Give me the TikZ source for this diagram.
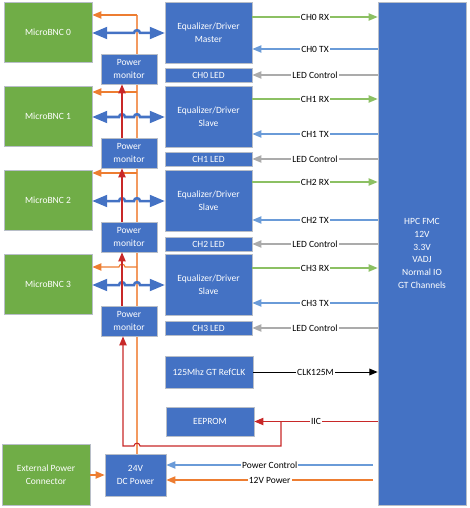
\documentclass[tikz,border=0pt]{standalone}
\usepackage{fontspec}
\setmainfont{Carlito}
\usetikzlibrary{arrows,backgrounds}

\definecolor{boxblue}{HTML}{4472C4}
\definecolor{boxgreen}{HTML}{70AD47}
\definecolor{rimgray}{HTML}{B8BEC8}
\definecolor{rxgreen}{HTML}{8CC063}
\definecolor{txblue}{HTML}{6A9BD8}
\definecolor{ledgray}{HTML}{ABABAB}
\definecolor{pwrorange}{HTML}{ED7D31}
\definecolor{feedorange}{HTML}{F39A60}
\definecolor{iicred}{HTML}{C82828}

\begin{document}
\begin{tikzpicture}[x=1pt,y=-1pt,>=triangle 45,
  font=\fontsize{9.5}{12.7}\selectfont,
  blue node/.style={rectangle,fill=boxblue,draw=rimgray,line width=0.8pt,text=white,align=center,inner sep=1pt},
  green node/.style={rectangle,fill=boxgreen,draw=rimgray,line width=0.8pt,text=white,align=center,inner sep=1pt},
  bnc node/.style={green node,minimum width=88pt,minimum height=60pt},
  eq node/.style={blue node,minimum width=87pt,minimum height=61pt},
  led node/.style={blue node,minimum width=87pt,minimum height=14pt},
  mon node/.style={blue node,minimum width=56pt,minimum height=30pt},
  sig label/.style={fill=white,text=black,inner sep=1pt},
  rx line/.style={->,draw=rxgreen,line width=1.1pt},
  tx line/.style={->,draw=txblue,line width=1.1pt},
  led line/.style={->,draw=ledgray,line width=1.1pt},
  clk line/.style={->,draw=black,line width=0.9pt},
  iic line/.style={->,draw=iicred,line width=1.1pt},
  feed line/.style={draw=feedorange,line width=1.3pt},
  pwr line/.style={->,draw=pwrorange,line width=1.1pt},
  bus line/.style={triangle 45-triangle 45,draw=boxblue,line width=2.5pt},
  hop/.style={out=90,in=90,looseness=1.6}]

  \useasboundingbox (0,0) rectangle (469,508);

  \node[bnc node] (bnc0) at (48,32)  {MicroBNC 0};
  \node[bnc node] (bnc1) at (48,116) {MicroBNC 1};
  \node[bnc node] (bnc2) at (48,200) {MicroBNC 2};
  \node[bnc node] (bnc3) at (48,284) {MicroBNC 3};

  \node[mon node] (mon0) at (129,69)  {Power\\monitor};
  \node[mon node] (mon1) at (129,153) {Power\\monitor};
  \node[mon node] (mon2) at (129,237) {Power\\monitor};
  \node[mon node] (mon3) at (129,321) {Power\\monitor};

  \node[eq node] (eq0) at (208.5,33)  {Equalizer/Driver\\Master};
  \node[eq node] (eq1) at (208.5,117) {Equalizer/Driver\\Slave};
  \node[eq node] (eq2) at (208.5,201) {Equalizer/Driver\\Slave};
  \node[eq node] (eq3) at (208.5,285) {Equalizer/Driver\\Slave};

  \node[led node] (led0) at (208.5,75)  {CH0 LED};
  \node[led node] (led1) at (208.5,159) {CH1 LED};
  \node[led node] (led2) at (208.5,244) {CH2 LED};
  \node[led node] (led3) at (208.5,328) {CH3 LED};

  \node[blue node,minimum width=88pt,minimum height=32pt] (clk) at (209,372) {125Mhz GT RefCLK};
  \node[blue node,minimum width=88pt,minimum height=29pt] (eeprom) at (210,421.5) {EEPROM};
  \node[green node,minimum width=88pt,minimum height=61pt] (ext) at (46,474.5) {External Power\\Connector};
  \node[blue node,minimum width=61pt,minimum height=42pt] (dc) at (135.5,475) {24V\\DC Power};
  \node[blue node,minimum width=88pt,minimum height=503pt] (fmc) at (422,253.5)
    {HPC FMC\\12V\\3.3V\\VADJ\\Normal IO\\GT Channels};

  % supply feed to the BNC connectors
  \begin{scope}[on background layer]
    \draw[feed line] ([xshift=1.5pt]dc.north) -- (137,15);
    \path[feed line]
      (137,15)  edge[pwr line] (bnc0.east |- 0,15)
      (137,92)  edge[pwr line] (bnc1.east |- 0,92)
      (137,173) edge[pwr line] (bnc2.east |- 0,173);
    \draw[pwr line] (137,267) -- (125,267) to[hop] (119,267) -- (bnc3.east |- 0,267);
  \end{scope}

  % data buses
  \draw[bus line] (bnc0.east |- eq0) -- (134,33) to[hop] (140,33) -- (eq0.west);
  \draw[bus line] (bnc1.east |- eq1) -- (119,117) to[hop] (125,117) -- (134,117) to[hop] (140,117) -- (eq1.west);
  \draw[bus line] (bnc2.east |- eq2) -- (119,201) to[hop] (125,201) -- (134,201) to[hop] (140,201) -- (eq2.west);
  \draw[bus line] (bnc3.east |- eq3) -- (119,285) to[hop] (125,285) -- (134,285) to[hop] (140,285) -- (eq3.west);

  % channels to the FMC
  \path[every node/.style={sig label}]
    (eq0.east |- 0,17)  edge[rx line] node {CH0 RX} (fmc.west |- 0,17)
    (fmc.west |- 0,49)  edge[tx line] node {CH0 TX} (eq0.east |- 0,49)
    (fmc.west |- led0)  edge[led line] node {LED Control} (led0)
    (eq1.east |- 0,99)  edge[rx line] node {CH1 RX} (fmc.west |- 0,99)
    (fmc.west |- 0,134) edge[tx line] node {CH1 TX} (eq1.east |- 0,134)
    (fmc.west |- led1)  edge[led line] node {LED Control} (led1)
    (eq2.east |- 0,182) edge[rx line] node {CH2 RX} (fmc.west |- 0,182)
    (fmc.west |- 0,220) edge[tx line] node {CH2 TX} (eq2.east |- 0,220)
    (fmc.west |- led2)  edge[led line] node {LED Control} (led2)
    (eq3.east |- 0,268) edge[rx line] node {CH3 RX} (fmc.west |- 0,268)
    (fmc.west |- 0,303) edge[tx line] node {CH3 TX} (eq3.east |- 0,303)
    (fmc.west |- led3)  edge[led line] node {LED Control} (led3)
    (clk)               edge[clk line] node {CLK125M} (fmc.west |- clk)
    (fmc.west |- eeprom) edge[iic line] node {IIC} (eeprom)
    (373,465)           edge[tx line] node {Power Control} (dc.east |- 0,465)
    (373,480)           edge[pwr line] node {12V Power} (dc.east |- 0,480);

  % monitor chain
  \draw[iic line] (281,421.5) -- (281,446) -- (140,446) to[hop] (134,446)
    -| ([xshift=-6pt]mon3.south);
  \path
    ([xshift=-7pt]mon3.north) edge[iic line] ([xshift=-7pt]mon2.south)
    ([xshift=-7pt]mon2.north) edge[iic line] ([xshift=-7pt]mon1.south)
    ([xshift=-7pt]mon1.north) edge[iic line] ([xshift=-7pt]mon0.south);

  \draw[pwr line] (ext.east |- 0,475) -- (dc.west |- 0,475);
\end{tikzpicture}
\end{document}
